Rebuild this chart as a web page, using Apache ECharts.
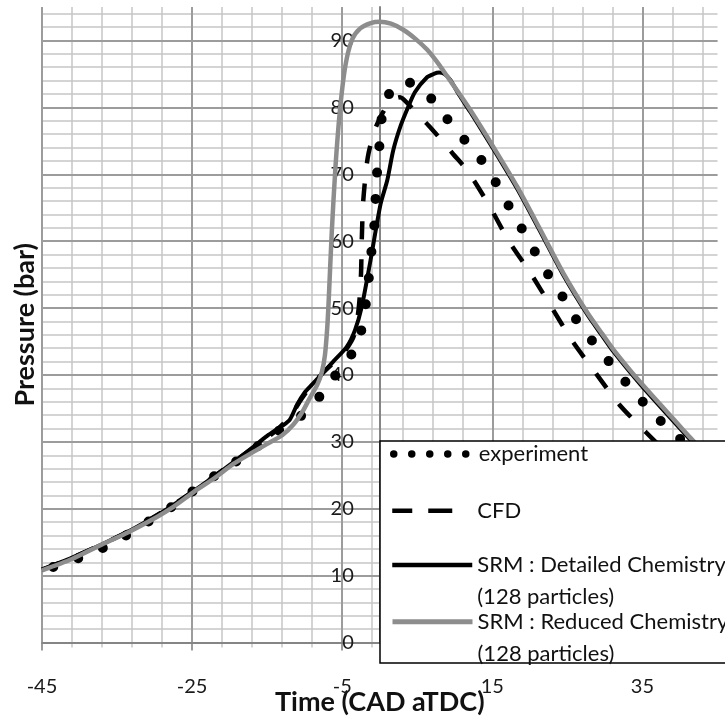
<!DOCTYPE html>
<html>
<head>
<meta charset="utf-8">
<script src="https://cdn.jsdelivr.net/npm/echarts@6/dist/echarts.min.js"></script>
<style>
  html, body { margin: 0; padding: 0; background: #ffffff; }
  #chart { width: 725px; height: 719px; }
</style>
</head>
<body>
<div id="chart"></div>
<script>
// Cylinder pressure vs crank angle (CAD after TDC)
const cadTicks = [-45, -25, -5, 15, 35];
const pressureTicks = [0, 10, 20, 30, 40, 50, 60, 70, 80, 90];

const expCad = [-43.5, -40.2, -36.8, -33.8, -30.8, -27.7, -24.7, -21.9, -18.7, -15.7, -13.0, -9.9, -7.5, -5.3, -3.0, -2.2, -1.6, -1.3, -0.8, -0.6, -0.4, -0.07, 0.3, 1.3, 3.3, 5.3, 7.2, 8.9, 10.6, 12.7, 14.6, 16.4, 18.1, 20.0, 21.6, 23.7, 25.5, 27.6, 29.9, 32.2, 34.5, 37.0, 39.6, 45.0];
const expP   = [11.3, 12.6, 14.2, 16.0, 18.1, 20.3, 22.8, 25.0, 27.4, 29.8, 32.0, 34.4, 37.5, 40.9, 44.4, 48.3, 52.6, 56.8, 61.1, 65.4, 69.6, 73.9, 78.6, 82.1, 83.9, 82.9, 80.9, 78.4, 76.0, 73.4, 70.4, 66.9, 63.4, 59.9, 56.4, 53.0, 49.4, 46.1, 42.9, 39.7, 36.7, 33.6, 30.9, 25.0];

const cfdCad = [-45, -41, -37, -33, -29, -25, -21, -17, -14, -12, -10.5, -9.2, -7.6, -6, -4.5, -3.4, -2.8, -2.5, -2.4, -2.2, -1.6, -0.7, 0.3, 1.5, 2.7, 3.8, 4.8, 6.5, 8.0, 9.8, 11.7, 14.6, 17.1, 20.1, 22.9, 25.7, 28.9, 31.9, 35.5, 40.0, 45.0];
const cfdP   = [10.9, 12.7, 14.7, 16.9, 19.5, 22.5, 25.7, 29.0, 31.5, 33.7, 36.3, 38.3, 40.3, 42.0, 43.8, 46.0, 50.0, 55.0, 60.0, 66.0, 72.5, 76.5, 79.0, 81.0, 81.5, 80.5, 79.2, 77.3, 75.4, 73.0, 70.5, 65.3, 60.2, 55.2, 50.1, 45.0, 40.1, 35.6, 31.4, 26.5, 22.0];

const detCad = [-45, -41, -37, -33, -29, -25, -21, -17, -15, -13, -12, -11, -10, -9, -7.5, -6.2, -4.4, -3.3, -2.4, -1.3, 0.1, 1.0, 1.8, 2.8, 3.8, 4.7, 6.3, 7.2, 7.9, 8.6, 9.4, 10.5, 12.07, 15.13, 18.33, 21.4, 24.47, 27.67, 29.67, 31.13, 34.73, 41.4, 45];
const detP   = [10.9, 12.7, 14.7, 16.9, 19.5, 22.5, 25.7, 29.1, 30.9, 32.4, 33.3, 35.6, 37.4, 38.6, 40.4, 42.0, 44.2, 46.7, 50.2, 56.7, 65.5, 69.1, 73.6, 77.3, 80.1, 82.3, 84.5, 85.0, 85.2, 85.0, 84.1, 82.0, 79.3, 73.8, 67.8, 61.4, 54.9, 49.0, 45.8, 43.5, 38.6, 30.3, 26.0];

const redCad = [-45, -41, -37.3, -33.5, -30.6, -27.5, -24.8, -22, -19.5, -17, -15, -13, -11.5, -10.3, -9.3, -8.3, -7.7, -7.3, -7.0, -6.8, -6.4, -5.9, -5.3, -4.6, -3.7, -2.6, -1.2, 0, 1.5, 3.13, 4.8, 6.33, 7.9, 9.0, 10.5, 12.07, 15.13, 18.33, 21.4, 24.47, 27.67, 29.67, 31.13, 34.73, 41.4, 45];
const redP   = [10.8, 12.5, 14.5, 16.5, 18.2, 20.3, 22.5, 24.6, 26.7, 28.4, 29.7, 31.0, 32.6, 34.5, 36.6, 38.6, 40.5, 43.0, 47.0, 51.2, 61.2, 71.1, 79.6, 86.1, 90.1, 91.8, 92.6, 92.8, 92.5, 91.6, 90.2, 88.6, 86.4, 84.6, 82.2, 79.6, 74.1, 68.1, 61.7, 55.2, 49.3, 46.1, 43.8, 38.9, 30.6, 26.2];

const seriesNames = ['experiment', 'CFD', 'SRM : Detailed Chemistry', 'SRM : Reduced Chemistry'];
const particleNote = '(128 particles)';

const pairs = (xs, ys) => xs.map((x, i) => [x, ys[i]]);

const FONT = 'Lato';
const MINOR = '#c6c6c6';
const MAJOR = '#9c9c9c';
const AXIS = '#858585';
const GRAY_SERIES = '#8d8d8d';

// plot rectangle
const GRID_LEFT = 42, GRID_RIGHT = 7.5, GRID_TOP = 7, GRID_BOTTOM = 76.4;
const CAD_MIN = -45, CAD_MAX = 45;
const plotWidth = 725 - GRID_LEFT - GRID_RIGHT;
// the pressure axis sits where CAD = 0
const pressureAxisShift = plotWidth * (0 - CAD_MIN) / (CAD_MAX - CAD_MIN);

const chart = echarts.init(document.getElementById('chart'), null, { renderer: 'canvas' });

const legendBase = {
  orient: 'vertical',
  left: 390,
  padding: 0,
  itemWidth: 80,
  itemHeight: 14,
  selectedMode: false,
  z: 120,
  itemStyle: { opacity: 0 },
  textStyle: { fontFamily: FONT, fontSize: 22, color: '#111', lineHeight: 32 }
};

const option = {
  animation: false,
  backgroundColor: '#ffffff',
  grid: { left: GRID_LEFT, right: GRID_RIGHT, top: GRID_TOP, bottom: GRID_BOTTOM, outerBoundsMode: 'none', containLabel: false },
  xAxis: [
    {
      // crank-angle axis carrying the data
      type: 'value', min: CAD_MIN, max: CAD_MAX, interval: 5, position: 'bottom', z: 2,
      axisLine: { show: true, onZero: false, lineStyle: { color: AXIS, width: 2 } },
      axisTick: { show: false },
      splitLine: { show: false },
      axisLabel: {
        margin: 34, fontFamily: FONT, fontSize: 20, color: '#1a1a1a',
        formatter: v => (cadTicks.indexOf(v) >= 0 ? String(v) : '')
      },
      name: 'Time (CAD aTDC)', nameLocation: 'middle', nameGap: 46, nameMoveOverlap: false,
      nameTextStyle: { fontFamily: FONT, fontSize: 27, fontWeight: 'bold', color: '#111', lineHeight: 28 }
    },
    {
      // fine vertical grid, every 4 CAD from the left edge
      type: 'value', min: 0, max: 90, interval: 4, position: 'bottom', z: 0,
      axisLine: { show: false, onZero: false },
      axisLabel: { show: false },
      axisTick: { show: true, length: 5, lineStyle: { color: MINOR, width: 1.5 } },
      splitLine: { show: true, showMaxLine: false, lineStyle: { color: MINOR, width: 1.5 } }
    },
    {
      // coarse vertical grid, every 20 CAD from the left edge
      type: 'value', min: 0, max: 90, interval: 20, position: 'bottom', z: 1,
      axisLine: { show: false, onZero: false },
      axisLabel: { show: false },
      axisTick: { show: true, length: 8, lineStyle: { color: MAJOR, width: 2 } },
      splitLine: { show: true, showMaxLine: false, lineStyle: { color: MAJOR, width: 2 } }
    }
  ],
  yAxis: [
    {
      // fine horizontal grid, every 2 bar
      type: 'value', min: 0, max: 95, interval: 2, position: 'left', z: 0,
      axisLine: { show: false, onZero: false },
      axisLabel: { show: false },
      axisTick: { show: false },
      splitLine: { show: true, showMaxLine: false, lineStyle: { color: MINOR, width: 1.5 } },
      name: 'Pressure (bar)', nameLocation: 'middle', nameRotate: 90, nameGap: 3, nameMoveOverlap: false,
      nameTextStyle: { fontFamily: FONT, fontSize: 27, fontWeight: 'bold', color: '#111', lineHeight: 28 }
    },
    {
      // pressure axis carrying the data, drawn at 0 CAD
      type: 'value', min: 0, max: 95, interval: 10, position: 'left', z: 2,
      offset: -pressureAxisShift,
      axisLine: { show: true, onZero: false, lineStyle: { color: AXIS, width: 2 } },
      axisTick: { show: false },
      axisLabel: {
        margin: 26, fontFamily: FONT, fontSize: 20, color: '#1a1a1a', showMaxLabel: false,
        formatter: v => (pressureTicks.indexOf(v) >= 0 ? String(v) : '')
      },
      splitLine: { show: true, showMaxLine: false, lineStyle: { color: MAJOR, width: 2 } }
    }
  ],
  graphic: [
    {
      type: 'rect', z: 100,
      shape: { x: 380, y: 441, width: 360, height: 222 },
      style: { fill: '#ffffff', stroke: '#000000', lineWidth: 1.5 }
    }
  ],
  legend: [
    Object.assign({}, legendBase, {
      top: 438, data: [seriesNames[0]],
      lineStyle: { width: 7.5, type: [0, 18], cap: 'round' }
    }),
    Object.assign({}, legendBase, {
      top: 494.7, data: [seriesNames[1]],
      lineStyle: { width: 4.5, type: [20, 16, 24, 40], cap: 'butt' }
    }),
    Object.assign({}, legendBase, {
      top: 517, data: [seriesNames[2]],
      lineStyle: { width: 4.5 },
      formatter: name => '\n' + name + '\n' + particleNote
    }),
    Object.assign({}, legendBase, {
      top: 573.7, data: [seriesNames[3]],
      lineStyle: { width: 5 },
      formatter: name => '\n' + name + '\n' + particleNote
    })
  ],
  series: [
    {
      name: seriesNames[0], type: 'line', xAxisIndex: 0, yAxisIndex: 1, z: 3,
      data: pairs(expCad, expP), symbol: 'none', smooth: 0.25,
      lineStyle: { color: '#000', width: 10, type: [0, 26.5], cap: 'round' },
      itemStyle: { color: '#000' }
    },
    {
      name: seriesNames[1], type: 'line', xAxisIndex: 0, yAxisIndex: 1, z: 4,
      data: pairs(cfdCad, cfdP), symbol: 'none', smooth: 0.25,
      lineStyle: { color: '#000', width: 4.5, type: [18, 20], cap: 'butt' },
      itemStyle: { color: '#000' }
    },
    {
      name: seriesNames[2], type: 'line', xAxisIndex: 0, yAxisIndex: 1, z: 5,
      data: pairs(detCad, detP), symbol: 'none', smooth: 0.25,
      lineStyle: { color: '#000', width: 4 },
      itemStyle: { color: '#000' }
    },
    {
      name: seriesNames[3], type: 'line', xAxisIndex: 0, yAxisIndex: 1, z: 6,
      data: pairs(redCad, redP), symbol: 'none', smooth: 0.25,
      lineStyle: { color: GRAY_SERIES, width: 4.5 },
      itemStyle: { color: GRAY_SERIES }
    }
  ]
};

chart.setOption(option);
</script>
</body>
</html>
